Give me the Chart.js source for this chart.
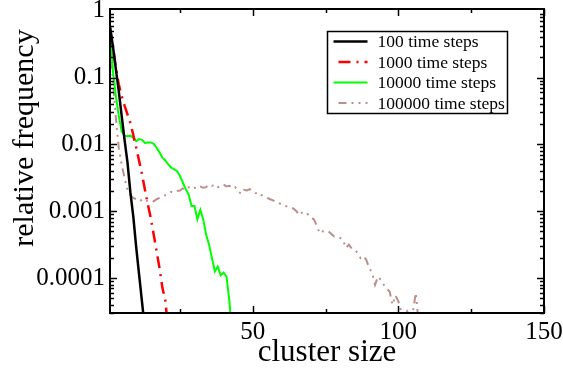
<!DOCTYPE html>
<html>
<head>
<meta charset="utf-8">
<script src="https://cdn.jsdelivr.net/npm/chart.js@4.4.1/dist/chart.umd.min.js"></script>
<style>
html,body{margin:0;padding:0;background:#fff}
#wrap{width:563px;height:368px}
</style>
</head>
<body>
<div id="wrap"><canvas id="chart"></canvas></div>
<script>
// cluster sizes (x) and relative frequencies
const sizes100 = [1,2,3,4,5,6,7,8,9,10,11,12,13];
const freq100 = [0.56,0.295,0.135,0.063,2.69e-2,1.17e-2,5.37e-3,1.91e-3,8.32e-4,2.88e-4,1.12e-4,4.37e-5,1.66e-5];

const sizes1000 = [1,2,3,4,5,6,7,8,9,10,11,12,13,14,15,16,17,18,19,20,21];
const freq1000 = [0.56,0.30,0.141,7.94e-2,5.25e-2,3.80e-2,2.82e-2,2.09e-2,1.38e-2,8.91e-3,5.62e-3,3.55e-3,2.09e-3,1.26e-3,7.94e-4,4.47e-4,2.51e-4,1.41e-4,7.08e-5,4.68e-5,1.58e-5];

const sizes10000 = [1,2,3,4,5,6,7,8,9,10,11,12,13,14,15,16,17,18,19,20,21,22,23,24,25,26,27,28,29,30,31,32,33,34,35,36,37,38,39,40,41,42,43];
const freq10000 = [0.631,0.126,5.37e-2,2.69e-2,1.58e-2,1.35e-2,1.32e-2,1.35e-2,1.26e-2,1.12e-2,1.20e-2,1.17e-2,1.05e-2,1.07e-2,1.07e-2,1.02e-2,
  8.91e-3,7.59e-3,6.31e-3,5.75e-3,5.01e-3,4.47e-3,4.27e-3,3.98e-3,3.39e-3,2.69e-3,2.14e-3,1.78e-3,1.20e-3,1.20e-3,7.59e-4,1.05e-3,7.59e-4,
  4.47e-4,3.16e-4,2.00e-4,1.26e-4,1.48e-4,1.10e-4,1.20e-4,1.05e-4,4.47e-5,1.26e-5];

const sizes100000 = [1,2,3,4,5,6,7,8,9,10,11,12,13,14,15,16,17,18,19,20,21,22,23,24,25,26,27,28,29,30,31,32,33,34,35,36,37,38,39,40,
  41,42,43,44,45,46,47,48,49,50,51,52,53,54,55,56,57,58,59,60,61,62,63,64,65,66,67,68,69,70,71,72,73,74,75,76,77,78,79,80,
  81,82,83,84,85,86,87,88,89,90,91,92,93,94,95,96,97,98,99,100,101,102,103,104,105,106,107];
const freq100000 = [0.447,8.91e-2,2.51e-2,8.91e-3,5.01e-3,3.16e-3,2.09e-3,1.74e-3,1.58e-3,1.51e-3,
  1.41e-3,1.48e-3,1.38e-3,1.45e-3,1.48e-3,1.41e-3,1.51e-3,1.58e-3,1.66e-3,1.74e-3,
  1.82e-3,1.95e-3,1.91e-3,2.00e-3,2.04e-3,2.19e-3,2.09e-3,2.29e-3,2.14e-3,2.24e-3,
  2.19e-3,2.34e-3,2.24e-3,2.29e-3,2.51e-3,2.40e-3,2.51e-3,2.29e-3,2.40e-3,2.51e-3,
  2.34e-3,2.40e-3,2.19e-3,2.29e-3,2.00e-3,1.82e-3,2.09e-3,2.04e-3,2.14e-3,2.00e-3,
  1.86e-3,1.91e-3,1.74e-3,1.66e-3,1.58e-3,1.51e-3,1.45e-3,1.38e-3,1.32e-3,1.26e-3,
  1.20e-3,1.17e-3,1.12e-3,1.10e-3,1.00e-3,8.71e-4,9.55e-4,9.77e-4,8.91e-4,7.94e-4,
  7.59e-4,6.03e-4,4.68e-4,5.01e-4,4.90e-4,5.01e-4,4.57e-4,4.17e-4,4.17e-4,3.98e-4,
  3.72e-4,2.82e-4,3.16e-4,2.75e-4,2.63e-4,2.40e-4,2.00e-4,2.14e-4,1.86e-4,1.41e-4,
  1.20e-4,7.94e-5,1.05e-4,9.33e-5,7.94e-5,6.92e-5,6.31e-5,3.98e-5,5.50e-5,4.47e-5,
  3.16e-5,2.51e-5,3.16e-5,2.51e-5,3.16e-5,6.03e-5,2.00e-5];

const seriesLabels = ['100 time steps', '1000 time steps', '10000 time steps', '100000 time steps'];

const xTickValues = [50, 100, 150];
const xTickLabels = ['50', '100', '150'];
const xMinorTicks = [25, 75, 125];
const yTickValues = [0.0001, 0.001, 0.01, 0.1, 1];
const yTickLabels = ['0.0001', '0.001', '0.01', '0.1', '1'];

const FONT = "'Liberation Serif', 'Times New Roman', serif";
const pts = (xs, ys) => xs.map((x, i) => ({ x, y: ys[i] }));

const line = (label, xs, ys, color, dash, width) => ({
  label, data: pts(xs, ys), borderColor: color, borderDash: dash, borderWidth: width,
  pointRadius: 0, tension: 0, fill: false, clip: 0
});

// frame, inward ticks on all four sides, axis titles and the boxed legend
const decor = {
  id: 'decor',
  afterDraw(chart) {
    const { ctx, chartArea: a, scales: { x, y } } = chart;
    ctx.save();
    ctx.strokeStyle = '#000';
    ctx.lineWidth = 1.5;
    const tick = (x1, y1, x2, y2) => { ctx.beginPath(); ctx.moveTo(x1, y1); ctx.lineTo(x2, y2); ctx.stroke(); };
    xTickValues.concat(xMinorTicks).forEach(v => {
      const px = Math.round(x.getPixelForValue(v)) + 0.5;
      const len = xTickValues.includes(v) ? 7 : 4;
      tick(px, a.bottom, px, a.bottom - len);
      tick(px, a.top, px, a.top + len);
    });
    yTickValues.forEach(d => {
      for (let m = 1; m <= 9; m++) {
        const v = d * m / 10;
        if (v < y.min || v > y.max) continue;
        const py = Math.round(y.getPixelForValue(v)) + 0.5;
        const len = m === 1 ? 7 : 4;
        tick(a.left, py, a.left + len, py);
        tick(a.right, py, a.right - len, py);
      }
    });
    ctx.lineWidth = 2;
    ctx.strokeRect(a.left, a.top, a.right - a.left, a.bottom - a.top);

    // axis titles
    ctx.fillStyle = '#000';
    ctx.font = '31px ' + FONT;
    ctx.textAlign = 'center';
    ctx.textBaseline = 'alphabetic';
    ctx.fillText('cluster size', (a.left + a.right) / 2, 361);
    ctx.font = '30px ' + FONT;
    ctx.textBaseline = 'middle';
    ctx.save();
    ctx.translate(25, 138);
    ctx.rotate(-Math.PI / 2);
    ctx.fillText('relative frequency', 0, 0);
    ctx.restore();

    // legend
    const bx = 327.5, by = 31.5, bw = 180, bh = 82;
    ctx.fillStyle = '#fff';
    ctx.fillRect(bx, by, bw, bh);
    ctx.lineWidth = 1.5;
    ctx.strokeStyle = '#000';
    ctx.strokeRect(bx, by, bw, bh);
    ctx.font = '17.5px ' + FONT;
    ctx.textAlign = 'left';
    chart.data.datasets.forEach((ds, i) => {
      const ry = by + 10 + i * 20.5;
      ctx.strokeStyle = ds.borderColor;
      ctx.lineWidth = ds.borderWidth;
      ctx.setLineDash(ds.borderDash || []);
      ctx.lineDashOffset = ds.borderDash && ds.borderDash.length ? -5 : 0;
      tick(bx + 6, ry, bx + 40, ry);
      ctx.setLineDash([]);
      ctx.fillStyle = '#000';
      ctx.fillText(ds.label, bx + 50, ry + 1);
    });
    ctx.restore();
  }
};

new Chart(document.getElementById('chart'), {
  type: 'line',
  data: {
    datasets: [
      line(seriesLabels[0], sizes100, freq100, '#000000', [], 2.5),
      line(seriesLabels[1], sizes1000, freq1000, '#ff0000', [12, 6, 2, 6], 2.5),
      line(seriesLabels[2], sizes10000, freq10000, '#00ff00', [], 2),
      line(seriesLabels[3], sizes100000, freq100000, '#bc8f8f', [8, 5, 2, 5, 2, 5], 2)
    ]
  },
  options: {
    responsive: true,
    maintainAspectRatio: false,
    animation: false,
    events: [],
    layout: { padding: { top: 9, right: 19, left: 0, bottom: 0 } },
    plugins: { legend: { display: false }, tooltip: { enabled: false } },
    scales: {
      x: {
        type: 'linear', min: 1, max: 150,
        afterBuildTicks: s => { s.ticks = xTickValues.map(v => ({ value: v })); },
        afterFit: s => { s.height = 55; s.paddingLeft = 0; s.paddingRight = 0; },
        grid: { display: false, drawTicks: false },
        border: { display: false },
        ticks: { color: '#000', font: { family: FONT, size: 25 }, padding: 4, maxRotation: 0,
          callback: (v, i) => xTickLabels[i] }
      },
      y: {
        type: 'logarithmic', min: 3e-5, max: 1.06,
        afterBuildTicks: s => { s.ticks = yTickValues.map(v => ({ value: v })); },
        afterFit: s => { s.width = 110; s.paddingTop = 0; s.paddingBottom = 0; },
        grid: { display: false, drawTicks: false },
        border: { display: false },
        ticks: { color: '#000', font: { family: FONT, size: 25 }, padding: 5,
          callback: (v, i) => yTickLabels[i] }
      }
    }
  },
  plugins: [decor]
});
</script>
</body>
</html>
